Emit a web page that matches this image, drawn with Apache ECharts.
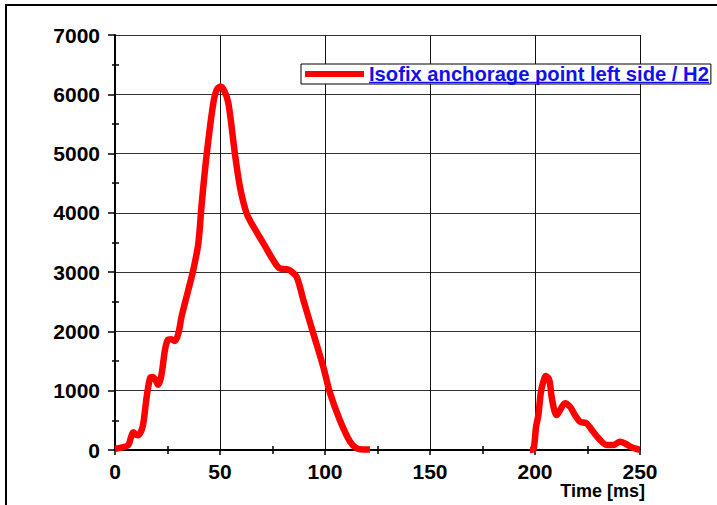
<!DOCTYPE html>
<html>
<head>
<meta charset="utf-8">
<script src="https://cdn.jsdelivr.net/npm/echarts@6/dist/echarts.min.js"></script>
<style>
  html, body { margin: 0; padding: 0; background: #fff; }
  #chart { width: 717px; height: 505px; }
</style>
</head>
<body>
<div id="chart"></div>
<script>
// Belt-anchor force over time: main pulse, then the rebound pulse
const seriesName = 'Isofix anchorage point left side / H2';
const timeAxisTitle = 'Time [ms]';

const pulseTime = [0, 3, 6.3, 7.5, 8.7, 10, 11.1, 12.5, 13.5, 15.1, 16.7, 18, 19.3, 20.6, 21.7, 22.5, 23.8,
  25.2, 26.8, 28.6, 30.2, 31.7, 34.9, 37.3, 39.7, 41.3, 43.7, 46.8, 48.5, 50.3, 52, 54, 57.1, 59.5,
  62.7, 65.9, 70.6, 75.4, 78.6, 81.8, 83.3, 86.5, 89.7, 94.4, 99.2, 102.4, 107, 111.9, 115, 118, 121.4];
const pulseForce = [20, 40, 80, 200, 300, 260, 250, 320, 450, 900, 1210, 1230, 1180, 1100, 1200, 1350, 1690,
  1860, 1870, 1840, 1970, 2250, 2700, 3040, 3490, 4160, 5000, 5850, 6080, 6130, 6060, 5850, 5000, 4440,
  3990, 3770, 3490, 3200, 3060, 3050, 3030, 2920, 2530, 1970, 1400, 960, 510, 140, 30, 10, 10];

const reboundTime = [197.6, 199.2, 200.5, 201.6, 202.7, 203.7, 205.2, 206.8, 207.9, 209.2, 210.3, 211.9,
  214.3, 216.7, 219, 221.4, 224.6, 227, 230.2, 234.1, 237.3, 240.5, 242.9, 246, 249.2, 250];
const reboundForce = [0, 10, 390, 590, 950, 1120, 1250, 1180, 900, 670, 590, 670,
  790, 730, 590, 480, 450, 340, 200, 85, 85, 140, 110, 45, 10, 5];

const timeTicks = { min: 0, max: 250, step: 50 };
const forceTicks = { min: 0, max: 7000, step: 1000 };

// one line, broken between the two pulses
const points = pulseTime.map((t, i) => [t, pulseForce[i]])
  .concat([[160, null]])
  .concat(reboundTime.map((t, i) => [t, reboundForce[i]]));

const FONT = "'Liberation Sans', Arial, Helvetica, sans-serif";

const chart = echarts.init(document.getElementById('chart'), null, { renderer: 'svg' });

const valueAxisBase = (ticks) => ({
  type: 'value',
  min: ticks.min,
  max: ticks.max,
  interval: ticks.step
});

const plainNumber = (v) => String(v);

chart.setOption({
  animation: false,
  backgroundColor: '#fff',
  grid: { left: 115, top: 35, right: 77, bottom: 55, containLabel: false, outerBoundsMode: 'none' },
  legend: {
    show: true,
    left: 301,
    top: 64,
    padding: [0, 2, 0, 4],
    backgroundColor: '#fff',
    borderColor: '#000',
    borderWidth: 1,
    borderRadius: 0,
    itemWidth: 59,
    itemHeight: 6,
    icon: 'rect',
    data: [seriesName],
    textStyle: { color: '#1111ee', fontWeight: 'bold', fontSize: 20.2, lineHeight: 20, fontFamily: FONT }
  },
  xAxis: [
    Object.assign(valueAxisBase(timeTicks), {
      axisLine: { show: true, onZero: false, lineStyle: { color: '#000', width: 2 } },
      axisTick: { show: true, length: 5, lineStyle: { color: '#000', width: 1.5 } },
      minorTick: { show: true, splitNumber: 2, length: 4, lineStyle: { color: '#000', width: 1.5 } },
      axisLabel: { color: '#000', fontWeight: 'bold', fontSize: 21, fontFamily: FONT, margin: 11,
        formatter: plainNumber },
      splitLine: { show: true, lineStyle: { color: '#111', width: 1 } }
    }),
    Object.assign(valueAxisBase(timeTicks), {
      position: 'bottom',
      axisLine: { show: false },
      axisTick: { show: false, inside: true },
      minorTick: { show: true, splitNumber: 2, length: 4, lineStyle: { color: '#000', width: 1.5 } },
      axisLabel: { show: false },
      splitLine: { show: false }
    })
  ],
  yAxis: [
    Object.assign(valueAxisBase(forceTicks), {
      axisLine: { show: true, onZero: false, lineStyle: { color: '#000', width: 2 } },
      axisTick: { show: true, length: 7, lineStyle: { color: '#000', width: 1.5 } },
      minorTick: { show: true, splitNumber: 2, length: 3, lineStyle: { color: '#000', width: 1.5 } },
      axisLabel: { color: '#000', fontWeight: 'bold', fontSize: 21, fontFamily: FONT, margin: 15,
        formatter: plainNumber },
      splitLine: { show: true, lineStyle: { color: '#333', width: 1 } }
    }),
    Object.assign(valueAxisBase(forceTicks), {
      position: 'left',
      axisLine: { show: false },
      axisTick: { show: false, inside: true },
      minorTick: { show: true, splitNumber: 2, length: 4, lineStyle: { color: '#000', width: 1.5 } },
      axisLabel: { show: false },
      splitLine: { show: false }
    })
  ],
  series: [{
    name: seriesName,
    type: 'line',
    xAxisIndex: 0,
    yAxisIndex: 0,
    data: points,
    smooth: 0.3,
    showSymbol: false,
    connectNulls: false,
    color: '#ff0000',
    lineStyle: { color: '#ff0000', width: 6.5 }
  }],
  graphic: [
    {
      type: 'rect',
      silent: true,
      shape: { x: 6, y: 5, width: 720, height: 510 },
      style: { fill: 'none', stroke: '#000', lineWidth: 2 }
    },
    {
      // time axis title, right-aligned under the end of the axis
      type: 'text',
      silent: true,
      style: {
        x: 645, y: 482,
        text: timeAxisTitle,
        align: 'right', verticalAlign: 'top',
        fill: '#000',
        font: "bold 18px 'Liberation Sans', Arial, sans-serif"
      }
    },
    {
      // underline under the legend label
      type: 'line',
      silent: true,
      z: 100,
      shape: { x1: 369, y1: 82.5, x2: 709, y2: 82.5 },
      style: { stroke: '#1111ee', lineWidth: 1.5 }
    }
  ]
});
</script>
</body>
</html>
